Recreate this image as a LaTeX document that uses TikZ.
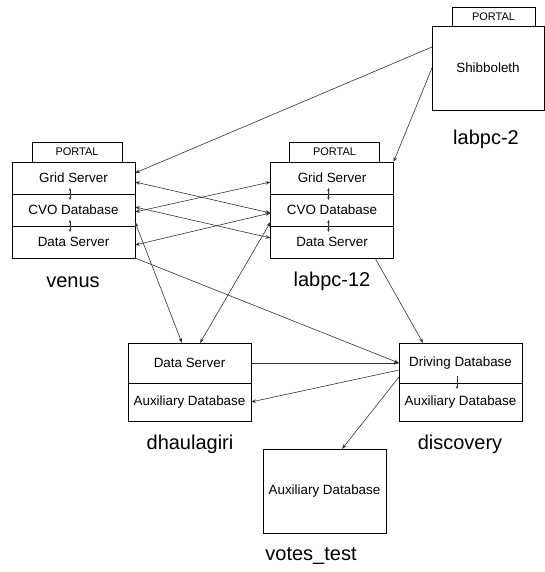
\documentclass[tikz,border=0pt]{standalone}
\usepackage{fontspec}
\setmainfont{Liberation Sans}
\usetikzlibrary{positioning, arrows.meta}

\begin{document}
\begin{tikzpicture}[x=1pt, y=-1pt,
    row/.style={draw, outer sep=0pt, inner sep=0pt, minimum width=123pt, minimum height=32pt, font=\fontsize{13.4}{15}\selectfont},
    tab/.style={draw, outer sep=0pt, inner sep=0pt, minimum width=90pt, minimum height=20pt, font=\fontsize{11}{13}\selectfont},
    host/.style={font=\fontsize{20}{24}\selectfont},
    link/.style={draw=black!80, line width=0.6pt, -{Stealth[length=5pt,width=3.5pt]}},
    both/.style={link, {Stealth[length=5pt,width=3.5pt]}-{Stealth[length=5pt,width=3.5pt]}},
    tiny/.style={draw=black!80, line width=0.6pt, {Stealth[length=3pt,width=2.5pt]}-{Stealth[length=3pt,width=2.5pt]}}]
    \useasboundingbox (0,0) rectangle (545,572);

    % venus
    \node[row] (vgrid) at (73.5,178) {Grid Server};
    \node[row, below=0pt of vgrid] (vcvo) {CVO Database};
    \node[row, below=0pt of vcvo] (vdata) {Data Server};
    \node[tab] (vportal) at (77,152) {PORTAL};
    \node[host] (venus) at (73,282) {venus};

    % labpc-12
    \node[row] (lgrid) at (332,178) {Grid Server};
    \node[row, below=0pt of lgrid] (lcvo) {CVO Database};
    \node[row, below=0pt of lcvo] (ldata) {Data Server};
    \node[tab] (lportal) at (334.5,152) {PORTAL};
    \node[host] (labpc12) at (332,281) {labpc-12};

    % labpc-2
    \node[row, minimum width=112pt, minimum height=84pt] (shib) at (488,68) {Shibboleth};
    \node[tab, minimum width=83pt, minimum height=19pt] (sportal) at (493.5,16.5) {PORTAL};
    \node[host] (labpc2) at (486,139) {labpc-2};

    % dhaulagiri
    \node[row, minimum height=40pt] (dserver) at (189.5,363) {Data Server};
    \node[row, minimum height=38pt, below=0pt of dserver] (daux) {Auxiliary Database};
    \node[host] (dhaulagiri) at (190,444) {dhaulagiri};

    % discovery
    \node[row, minimum height=40pt] (ddrive) at (460.5,363) {Driving Database};
    \node[row, minimum height=38pt, below=0pt of ddrive] (xaux) {Auxiliary Database};
    \node[host] (discovery) at (460,444) {discovery};

    % votes_test
    \node[row, minimum height=84pt] (votes) at (324.5,491) {Auxiliary Database};
    \node[host] (votestest) at (311,556) {votes\_test};

    \foreach \n in {vgrid, vcvo, lgrid, lcvo}
        \draw[tiny] ([xshift=-3.5pt,yshift=6pt]\n.south) -- ([xshift=-3.5pt,yshift=-6pt]\n.south);
    \draw[link, -{Stealth[length=3pt,width=2.5pt]}] ([xshift=-3.5pt,yshift=7pt]ddrive.south) -- ([xshift=-3.5pt,yshift=-6pt]ddrive.south);

    \draw[link] ([yshift=21pt]shib.west) -- ([yshift=5pt]vgrid.east);
    \draw[link] (shib.west) -- (lgrid.north east);
    \draw[both] ([yshift=-4pt]vgrid.east) -- ([yshift=-3pt]lcvo.west);
    \draw[both] ([yshift=-2pt]vcvo.east) -- ([yshift=-4pt]lgrid.west);
    \draw[both] ([yshift=3pt]vcvo.east) -- ([yshift=4pt]ldata.west);
    \draw[both] ([yshift=-3pt]vdata.east) -- ([yshift=-3pt]lcvo.west);
    \draw[both] ([yshift=-12pt]vcvo.east) -- ([xshift=-7.5pt]dserver.north);
    \draw[both] ([yshift=-12pt]lcvo.west) -- ([xshift=10.5pt]dserver.north);
    \draw[link] (vdata.south east) -- (ddrive.west);
    \draw[link] (dserver.east) -- (ddrive.west);
    \draw[link] ([xshift=43pt]ldata.south) -- ([xshift=-37.5pt]ddrive.north);
    \draw[link] ([yshift=-7pt]ddrive.west) -- (daux.east);
    \draw[link] ([yshift=-14pt]ddrive.west) -- ([xshift=17.5pt]votes.north);
\end{tikzpicture}
\end{document}
